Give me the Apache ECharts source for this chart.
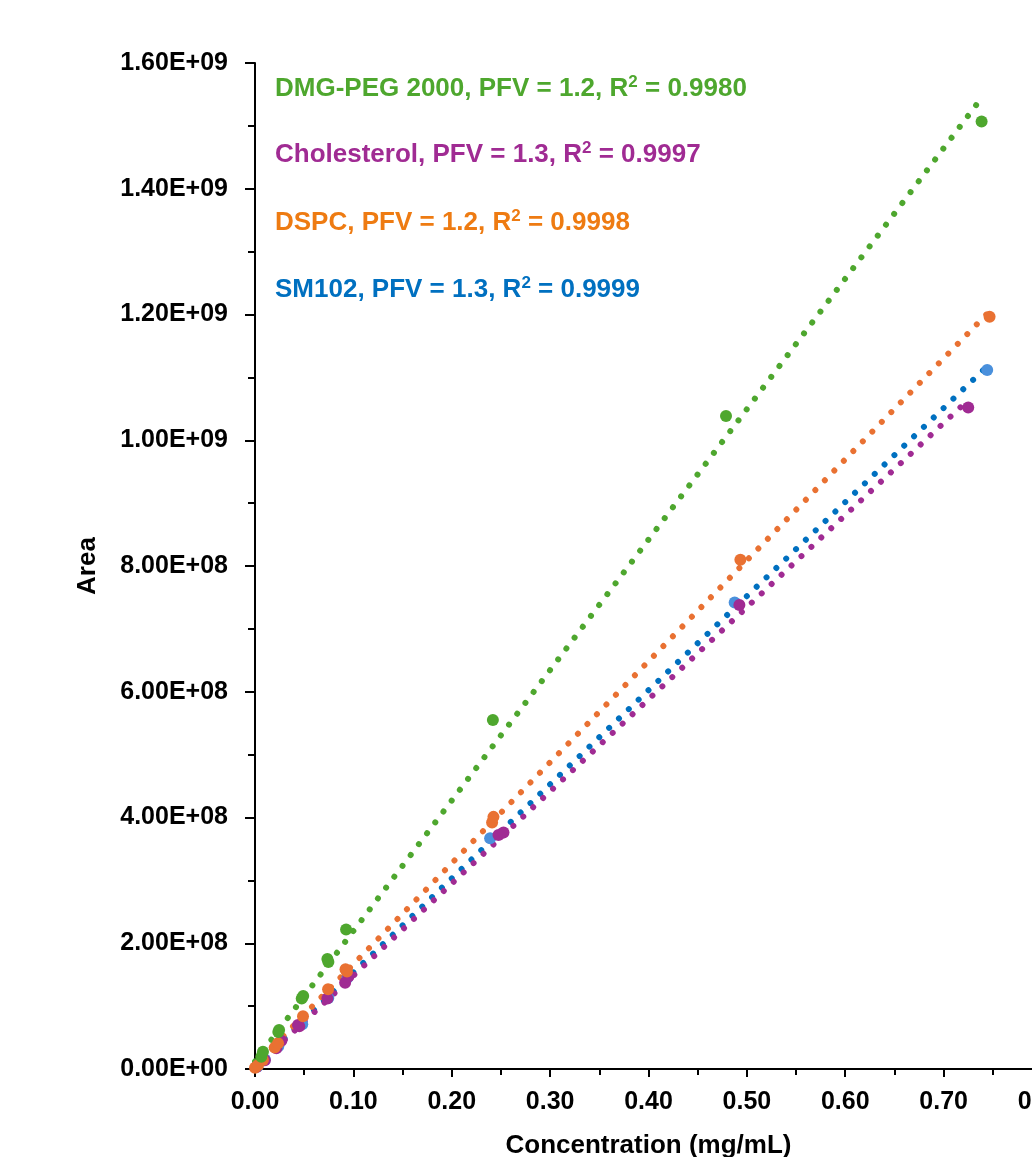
<!DOCTYPE html>
<html>
<head>
<meta charset="utf-8">
<title>Area vs Concentration</title>
<script src="https://cdn.jsdelivr.net/npm/echarts@6/dist/echarts.min.js"></script>
<style>
	html, body {margin: 0; padding: 0; background: #fff;}
	#data_show {width: 1032px; height: 1157px;}
</style>
</head>
<body>
<div id="data_show"></div>
<script>
// measured points [concentration mg/mL, area]
var sm102_points = [[0.0025, 4e6], [0.010, 1.5e7], [0.0237, 3.6e7], [0.048, 7.1e7], [0.0745, 1.13e8], [0.094, 1.45e8], [0.239, 3.67e8], [0.4876, 7.42e8], [0.7443, 1.1118e9]];
var chol_points = [[0.0015, 3e6], [0.010, 1.4e7], [0.0217, 3.3e7], [0.0268, 4.5e7], [0.0437, 7.0e7], [0.045, 6.8e7], [0.0736, 1.12e8], [0.0916, 1.37e8], [0.095, 1.47e8], [0.2475, 3.72e8], [0.2526, 3.76e8], [0.4924, 7.38e8], [0.725, 1.052e9]];
var dspc_points = [[0.0, 2e6], [0.003, 6e6], [0.0081, 1.43e7], [0.020, 3.4e7], [0.0234, 4.1e7], [0.0488, 8.4e7], [0.0743, 1.27e8], [0.092, 1.586e8], [0.0935, 1.55e8], [0.241, 3.92e8], [0.2424, 4.01e8], [0.4934, 8.10e8], [0.7467, 1.1966e9]];
var peg_points = [[0.0064, 1.95e7], [0.0081, 2.75e7], [0.0237, 5.9e7], [0.0245, 6.2e7], [0.0475, 1.12e8], [0.049, 1.16e8], [0.0736, 1.75e8], [0.0746, 1.70e8], [0.0926, 2.22e8], [0.2418, 5.55e8], [0.4788, 1.0386e9], [0.7386, 1.507e9]];

// linear trendline end points
var sm102_trend = [[0, 4e6], [0.7443, 1.1175e9]];
var chol_trend = [[0, 2e6], [0.725, 1.064e9]];
var dspc_trend = [[0, 6e6], [0.745, 1.2025e9]];
var peg_trend = [[0, 1.2e7], [0.7345, 1.536e9]];

var fit_labels = [
	['DMG-PEG 2000, PFV = 1.2, R', ' = 0.9980'],
	['Cholesterol, PFV = 1.3, R', ' = 0.9997'],
	['DSPC, PFV = 1.2, R', ' = 0.9998'],
	['SM102, PFV = 1.3, R', ' = 0.9999']
];

var x_ticks = [0, 0.8, 0.1];
var y_ticks = [0, 1.6e9, 2e8];

var FONT = '"Liberation Sans", Arial, sans-serif';

function sci(v){
	if(v === 0) return '0.00E+00';
	var e = Math.floor(Math.log10(Math.abs(v)));
	var s = (v / Math.pow(10, e)).toFixed(2);
	if(s === '10.00'){ s = '1.00'; e++; }
	var a = Math.abs(e);
	return s + 'E' + (e < 0 ? '-' : '+') + (a < 10 ? '0' : '') + a;
}

function fit_text(i, color, top){
	return {
		type: 'text',
		left: 275,
		top: top,
		z: 100,
		style: {
			text: '{b|' + fit_labels[i][0] + '}{sup|2}{b|' + fit_labels[i][1] + '}',
			fill: color,
			rich: {
				b: {fontSize: 26, fontWeight: 'bold', fontFamily: FONT, fill: color, lineHeight: 30},
				sup: {fontSize: 17, fontWeight: 'bold', fontFamily: FONT, fill: color, lineHeight: 18, verticalAlign: 'top'}
			}
		}
	};
}

function trend(data, color){
	return {
		type: 'line',
		data: data,
		symbol: 'none',
		silent: true,
		z: 3,
		lineStyle: {color: color, width: 6, type: [0.01, 13.6], cap: 'round'}
	};
}

function marks(data, color){
	return {
		type: 'scatter',
		data: data,
		symbolSize: 12,
		z: 4,
		itemStyle: {color: color, opacity: 1}
	};
}

var chart = echarts.init(document.getElementById('data_show'));
var option = {
	animation: false,
	backgroundColor: '#fff',
	grid: {left: 255, top: 63, right: -10, bottom: 88, outerBoundsMode: 'none', containLabel: false},
	xAxis: {
		type: 'value',
		min: x_ticks[0], max: x_ticks[1], interval: x_ticks[2],
		name: 'Concentration (mg/mL)',
		nameLocation: 'middle',
		nameGap: 64,
		nameTextStyle: {color: '#000', fontSize: 26, fontWeight: 'bold', fontFamily: FONT, verticalAlign: 'top'},
		axisLine: {show: true, onZero: false, lineStyle: {color: '#000', width: 2}},
		axisTick: {show: true, length: 8, lineStyle: {color: '#000', width: 2}},
		minorTick: {show: true, splitNumber: 2, length: 6, lineStyle: {color: '#000', width: 2}},
		splitLine: {show: false},
		axisLabel: {
			margin: 21, color: '#000', fontSize: 25, fontWeight: 'bold', fontFamily: FONT,
			formatter: function(v){ return v.toFixed(2); }
		}
	},
	yAxis: {
		type: 'value',
		min: y_ticks[0], max: y_ticks[1], interval: y_ticks[2],
		name: 'Area',
		nameLocation: 'middle',
		nameGap: 154,
		nameTextStyle: {color: '#000', fontSize: 26, fontWeight: 'bold', fontFamily: FONT},
		axisLine: {show: true, lineStyle: {color: '#000', width: 2}},
		axisTick: {show: true, length: 10, lineStyle: {color: '#000', width: 2}},
		minorTick: {show: true, splitNumber: 2, length: 7, lineStyle: {color: '#000', width: 2}},
		splitLine: {show: false},
		axisLabel: {
			margin: 27, color: '#000', fontSize: 25, fontWeight: 'bold', fontFamily: FONT,
			formatter: sci
		}
	},
	graphic: [
		fit_text(0, '#4EA72E', 74),
		fit_text(1, '#A02B93', 140),
		fit_text(2, '#EE7B12', 208),
		fit_text(3, '#0070C0', 275)
	],
	series: [
		marks(sm102_points, '#4A90DC'),
		marks(chol_points, '#A02B93'),
		marks(dspc_points, '#E97132'),
		marks(peg_points, '#4EA72E'),
		trend(sm102_trend, '#0070C0'),
		trend(chol_trend, '#A02B93'),
		trend(dspc_trend, '#E97132'),
		trend(peg_trend, '#4EA72E')
	]
};
chart.setOption(option);
</script>
</body>
</html>
